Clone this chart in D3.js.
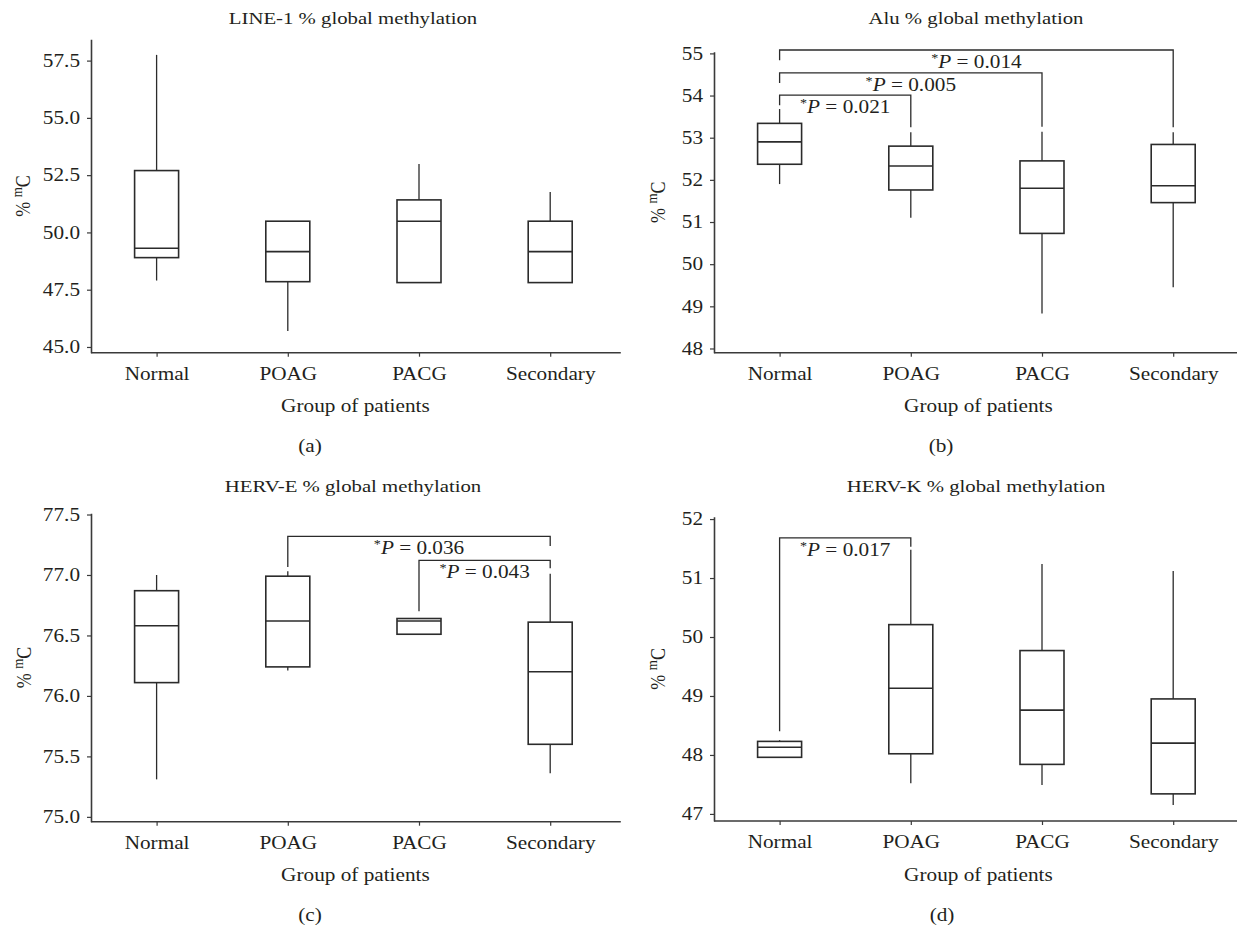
<!DOCTYPE html>
<html>
<head>
<meta charset="utf-8">
<script src="https://cdn.jsdelivr.net/npm/d3@7"></script>
<style>
  body { margin: 0; background: #fff; }
  text { font-family: "Liberation Serif", "Times New Roman", serif; fill: #231f20; }
</style>
</head>
<body>
<div id="chart"></div>
<script>
// groups on the x axis (same for all four panels)
var groups = ["Normal", "POAG", "PACG", "Secondary"];

// box stats per group: [whisker low, Q1, median, Q3, whisker high]
var line1Stats = [
  [47.90, 48.90, 49.31, 52.70, 57.75],
  [45.70, 47.85, 49.16, 50.49, 50.49],
  [47.81, 47.81, 50.49, 51.42, 52.99],
  [47.81, 47.81, 49.16, 50.49, 51.76]
];
var aluStats = [
  [51.90, 52.37, 52.90, 53.34, 53.68],
  [51.10, 51.76, 52.33, 52.80, 53.13],
  [48.83, 50.73, 51.80, 52.45, 53.14],
  [49.45, 51.46, 51.86, 52.84, 53.13]
];
var hervEStats = [
  [75.31, 76.11, 76.58, 76.87, 77.00],
  [76.21, 76.24, 76.62, 76.99, 77.03],
  [76.51, 76.51, 76.62, 76.64, 76.64],
  [75.36, 75.60, 76.20, 76.61, 77.01]
];
var hervKStats = [
  [47.96, 47.96, 48.13, 48.23, 48.25],
  [47.52, 48.02, 49.13, 50.21, 51.48],
  [47.49, 47.84, 48.76, 49.77, 51.24],
  [47.15, 47.34, 48.20, 48.95, 51.12]
];

// y tick values
var line1Ticks = [45, 47.5, 50, 52.5, 55, 57.5];
var aluTicks = [48, 49, 50, 51, 52, 53, 54, 55];
var hervETicks = [75, 75.5, 76, 76.5, 77, 77.5];
var hervKTicks = [47, 48, 49, 50, 51, 52];

// significance brackets: [from group, to group, bracket level, left leg end, right leg end, p value]
var aluBrackets = [
  [0, 1, 54.01, 53.77, 53.25, "0.021"],
  [0, 2, 54.54, 54.30, 53.26, "0.005"],
  [0, 3, 55.08, 54.84, 53.25, "0.014"]
];
var hervEBrackets = [
  [1, 3, 77.32, 77.065, 77.24, "0.036"],
  [2, 3, 77.12, 76.70, 77.055, "0.043"]
];
var hervKBrackets = [
  [0, 1, 51.68, 48.40, 51.53, "0.017"]
];

var titles = ["LINE-1 % global methylation", "Alu % global methylation",
              "HERV-E % global methylation", "HERV-K % global methylation"];
var letters = ["(a)", "(b)", "(c)", "(d)"];

// the source figure is stretched horizontally, so text gets the same stretch
var sx = 1.18;
var plotW = 524.8, boxW = 44;

var panels = [
  {title: titles[0], letter: letters[0], stats: line1Stats, ticks: line1Ticks, fmt: d3.format(".1f"), brackets: [],
   domain: [44.75, 58.43], left: 91, top: 39.3, bottom: 352.7, yLabX: 30, titleX: 353, letterX: 310},
  {title: titles[1], letter: letters[1], stats: aluStats, ticks: aluTicks, fmt: d3.format("d"), brackets: aluBrackets,
   domain: [47.9, 55.04], left: 714, top: 51.7, bottom: 352.7, yLabX: 665, titleX: 976, letterX: 941},
  {title: titles[2], letter: letters[2], stats: hervEStats, ticks: hervETicks, fmt: d3.format(".1f"), brackets: hervEBrackets,
   domain: [74.96, 77.51], left: 91, top: 513.3, bottom: 821.7, yLabX: 31, titleX: 353, letterX: 310},
  {title: titles[3], letter: letters[3], stats: hervKStats, ticks: hervKTicks, fmt: d3.format("d"), brackets: hervKBrackets,
   domain: [46.88, 52.04], left: 714, top: 516.7, bottom: 821, yLabX: 665, titleX: 976, letterX: 942}
];

var svg = d3.select("#chart")
  .append("svg")
    .attr("width", 1237)
    .attr("height", 926);

var ink = "#2b2b2b";

panels.forEach(function(p, i) {
  var g = svg.append("g");
  var top0 = i < 2 ? 0 : 468;

  var x = d3.scalePoint()
    .domain(groups)
    .range([p.left, p.left + plotW])
    .padding(0.5);
  var y = d3.scaleLinear()
    .domain(p.domain)
    .range([p.bottom, p.top]);

  // x axis (line runs a little past the last band, as in the source)
  var xAxis = g.append("g")
    .attr("transform", "translate(0," + p.bottom + ")")
    .call(d3.axisBottom(x).tickSize(4).tickSizeOuter(0));
  xAxis.select(".domain")
    .attr("d", "M" + p.left + ",0H" + (p.left + plotW + 5))
    .attr("stroke", "#3a3a3a").attr("stroke-width", 1.6);
  xAxis.selectAll(".tick line").attr("stroke", "#3a3a3a").attr("stroke-width", 1.2);
  xAxis.selectAll("text")
    .attr("y", 27.3).attr("dy", 0)
    .attr("transform", "scale(" + sx + ",1)")
    .style("font-size", "18px")
    .attr("fill", "#231f20");

  // y axis
  var yAxis = g.append("g")
    .attr("transform", "translate(" + p.left + ",0)")
    .call(d3.axisLeft(y).tickValues(p.ticks).tickFormat(p.fmt).tickSize(4).tickSizeOuter(0));
  yAxis.select(".domain").attr("stroke", "#3a3a3a").attr("stroke-width", 1.6);
  yAxis.selectAll(".tick line").attr("stroke", "#3a3a3a").attr("stroke-width", 1.2);
  yAxis.selectAll("text")
    .attr("x", -11 / sx)
    .attr("transform", "scale(" + sx + ",1)")
    .style("font-size", "18px")
    .attr("fill", "#231f20");

  // whiskers
  g.selectAll(".whiskLo")
    .data(p.stats)
    .enter().append("line")
      .attr("x1", function(d, j) { return x(groups[j]); })
      .attr("x2", function(d, j) { return x(groups[j]); })
      .attr("y1", function(d) { return y(d[0]); })
      .attr("y2", function(d) { return y(d[1]); })
      .attr("stroke", ink).attr("stroke-width", 1.3);
  g.selectAll(".whiskHi")
    .data(p.stats)
    .enter().append("line")
      .attr("x1", function(d, j) { return x(groups[j]); })
      .attr("x2", function(d, j) { return x(groups[j]); })
      .attr("y1", function(d) { return y(d[3]); })
      .attr("y2", function(d) { return y(d[4]); })
      .attr("stroke", ink).attr("stroke-width", 1.3);

  // boxes
  g.selectAll(".box")
    .data(p.stats)
    .enter().append("rect")
      .attr("x", function(d, j) { return x(groups[j]) - boxW / 2; })
      .attr("y", function(d) { return y(d[3]); })
      .attr("width", boxW)
      .attr("height", function(d) { return y(d[1]) - y(d[3]); })
      .attr("fill", "#fff")
      .attr("stroke", ink).attr("stroke-width", 1.6);

  // medians
  g.selectAll(".median")
    .data(p.stats)
    .enter().append("line")
      .attr("x1", function(d, j) { return x(groups[j]) - boxW / 2; })
      .attr("x2", function(d, j) { return x(groups[j]) + boxW / 2; })
      .attr("y1", function(d) { return y(d[2]); })
      .attr("y2", function(d) { return y(d[2]); })
      .attr("stroke", ink).attr("stroke-width", 1.6);

  // significance brackets
  p.brackets.forEach(function(b) {
    var x1 = x(groups[b[0]]), x2 = x(groups[b[1]]), yb = y(b[2]);
    g.append("path")
      .attr("d", "M" + x1 + "," + y(b[3]) + "V" + yb + "H" + x2 + "V" + y(b[4]))
      .attr("fill", "none")
      .attr("stroke", ink).attr("stroke-width", 1.3);
    var t = g.append("text")
      .attr("text-anchor", "middle")
      .attr("transform", "translate(" + ((x1 + x2) / 2) + "," + (yb + 18) + ") scale(" + sx + ",1)")
      .style("font-size", "18px");
    t.append("tspan").text("*").style("font-size", "12px").attr("dy", -6);
    t.append("tspan").text("P").style("font-style", "italic").attr("dy", 6);
    t.append("tspan").text(" = " + b[5]);
  });

  // title
  g.append("text")
    .attr("text-anchor", "middle")
    .attr("transform", "translate(" + p.titleX + "," + (23.5 + top0) + ") scale(" + sx + ",1)")
    .style("font-size", "17.6px")
    .text(p.title);

  // x axis label
  g.append("text")
    .attr("text-anchor", "middle")
    .attr("transform", "translate(" + (p.left + (plotW + 4) / 2) + "," + (p.bottom + 59.5) + ") scale(" + sx + ",1)")
    .style("font-size", "18px")
    .text("Group of patients");

  // y axis label
  var yl = g.append("text")
    .attr("text-anchor", "middle")
    .attr("transform", "translate(" + p.yLabX + "," + ((p.top + p.bottom) / 2) + ") rotate(-90) scale(1," + sx + ")")
    .style("font-size", "18px");
  yl.append("tspan").text("% ");
  yl.append("tspan").text("m").style("font-size", "13px").attr("dy", -7);
  yl.append("tspan").text("C").attr("dy", 7);

  // panel letter
  g.append("text")
    .attr("text-anchor", "middle")
    .attr("transform", "translate(" + p.letterX + "," + (452 + (i < 2 ? 0 : 469)) + ") scale(" + sx + ",1)")
    .style("font-size", "18px")
    .text(p.letter);
});
</script>
</body>
</html>
